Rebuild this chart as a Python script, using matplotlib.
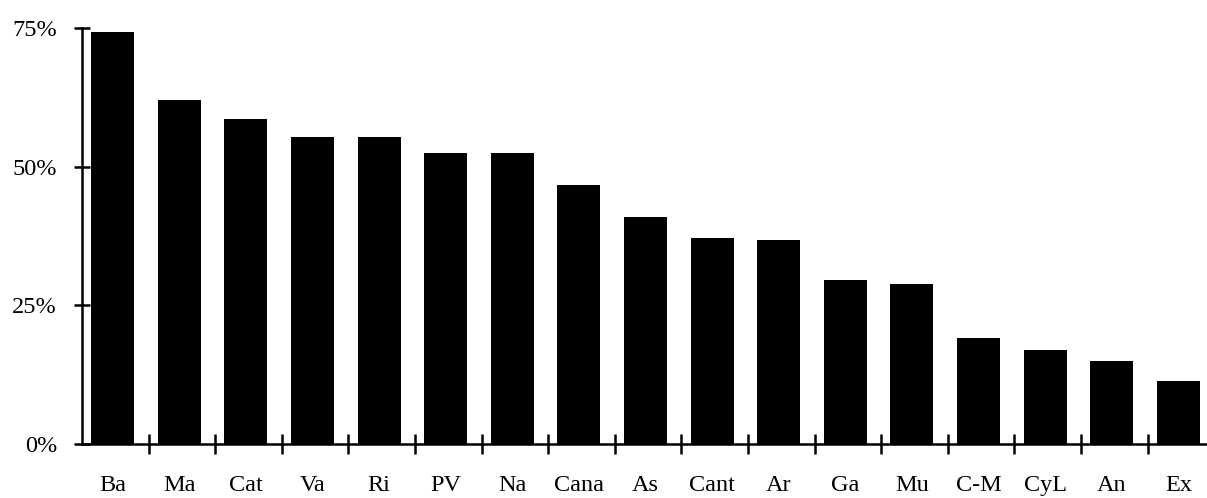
import numpy as np
import matplotlib
matplotlib.use("Agg")
from matplotlib import pyplot as plt
from matplotlib.ticker import FixedLocator, FuncFormatter

regioni = ["Ba", "Ma", "Cat", "Va", "Ri", "PV", "Na", "Cana", "As",
           "Cant", "Ar", "Ga", "Mu", "C-M", "CyL", "An", "Ex"]
valori = [74.2, 62.1, 58.6, 55.3, 55.3, 52.5, 52.5, 46.7, 41.0,
          37.1, 36.8, 29.6, 28.8, 19.2, 16.9, 15.0, 11.4]
yticks = [0, 25, 50, 75]

matplotlib.rcParams['font.family'] = 'Liberation Serif'
matplotlib.rcParams['font.size'] = 17.5

f1 = plt.figure(figsize=(12.07, 4.98), dpi=100)
ax = f1.add_axes((0.0679, 0.1084, 1 - 0.0679, 0.8353))

x = np.arange(len(regioni))
ax.bar(x, valori, width=0.645, color='black', edgecolor='black', linewidth=0)

ax.set_ylim(0, 75)
ax.set_xlim(-0.46, 16.43)

for s in ('top', 'right'):
    ax.spines[s].set_visible(False)
for s in ('left', 'bottom'):
    ax.spines[s].set_linewidth(1.8)
    ax.spines[s].set_color('black')

ax.yaxis.set_major_locator(FixedLocator(yticks))
ax.yaxis.set_major_formatter(FuncFormatter(lambda v, p: "%d%%" % v))
ax.tick_params(axis='y', direction='inout', length=12, width=1.8, pad=12)

ax.set_xticks(x)
ax.set_xticklabels(regioni)
ax.xaxis.set_minor_locator(FixedLocator(x[:-1] + 0.54))
ax.tick_params(axis='x', which='major', length=0, pad=22)
ax.tick_params(axis='x', which='minor', direction='inout', length=14, width=1.8)

f1.savefig("out.png", dpi=100)
